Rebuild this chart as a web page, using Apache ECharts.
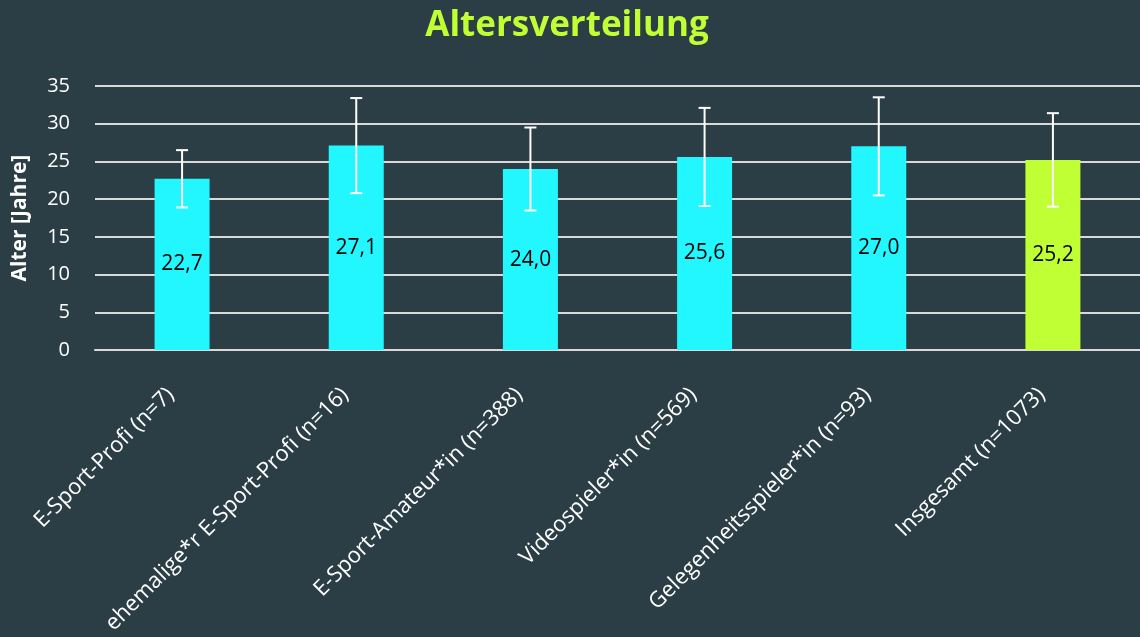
<!DOCTYPE html>
<html><head><meta charset="utf-8">
<script src="https://cdn.jsdelivr.net/npm/echarts@6/dist/echarts.min.js"></script>
<style>html,body{margin:0;padding:0;background:#2C3E45;}#c{width:1140px;height:637px;}</style>
</head><body><div id="c"></div>
<script>
const categories = ['E-Sport-Profi (n=7)','ehemalige*r E-Sport-Profi (n=16)','E-Sport-Amateur*in (n=388)','Videospieler*in (n=569)','Gelegenheitsspieler*in (n=93)','Insgesamt (n=1073)'];
const means = [22.7, 27.1, 24.0, 25.6, 27.0, 25.2];
const sds = [3.8, 6.3, 5.5, 6.5, 6.5, 6.2];
const yTicks = [0,5,10,15,20,25,30,35];

const FONT = '"Open Sans","Noto Sans",sans-serif';
const chart = echarts.init(document.getElementById('c'));
const barData = means.map((v,i)=>({value:v, itemStyle:{color: i===means.length-1 ? '#BFFF33' : '#22F6FF'}}));
const errData = means.map((v,i)=>[i, v - sds[i], v + sds[i]]);

chart.setOption({
  backgroundColor:'#2C3E45',
  animation:false,
  title:{text:'Altersverteilung', left:562, top:4, textAlign:'center',
    textStyle:{color:'#BFFF33', fontSize:35, fontWeight:'bold', fontFamily:FONT}},
  grid:{left:95, top:86, width:1052, bottom:284},
  xAxis:{type:'category', data:categories,
    axisLine:{show:true, lineStyle:{color:'#D9D9D9', width:2}},
    axisTick:{show:false},
    axisLabel:{rotate:45, color:'#FFFFFF', fontSize:22, fontFamily:FONT, margin:30, interval:0,
      padding:[0,16,0,0]}},
  yAxis:{type:'value', min:0, max:35, interval:5,
    name:'Alter [Jahre]', nameLocation:'middle', nameGap:64, nameRotate:90,
    nameTextStyle:{color:'#FFFFFF', fontSize:21, fontWeight:'bold', fontFamily:FONT},
    axisLine:{show:false}, axisTick:{show:false},
    axisLabel:{color:'#FFFFFF', fontSize:20, fontFamily:FONT, margin:25},
    splitLine:{lineStyle:{color:'#D9D9D9', width:2}}},
  series:[
    {type:'bar', data:barData, barWidth:55,
      label:{show:true, position:'inside', color:'#000000', fontSize:21, fontFamily:FONT,
        formatter:p=>p.value.toFixed(1).replace('.',',')}},
    {type:'custom', data:errData, z:10,
      renderItem:function(params, api){
        const x = api.value(0);
        const lo = api.coord([x, api.value(1)]);
        const hi = api.coord([x, api.value(2)]);
        const hw = 6;
        const st = {stroke:'#FFFFFF', lineWidth:2};
        return {type:'group', children:[
          {type:'line', shape:{x1:lo[0], y1:lo[1], x2:hi[0], y2:hi[1]}, style:st},
          {type:'line', shape:{x1:hi[0]-hw, y1:hi[1], x2:hi[0]+hw, y2:hi[1]}, style:st},
          {type:'line', shape:{x1:lo[0]-hw, y1:lo[1], x2:lo[0]+hw, y2:lo[1]}, style:st}
        ]};
      }}
  ]
});
</script></body></html>
